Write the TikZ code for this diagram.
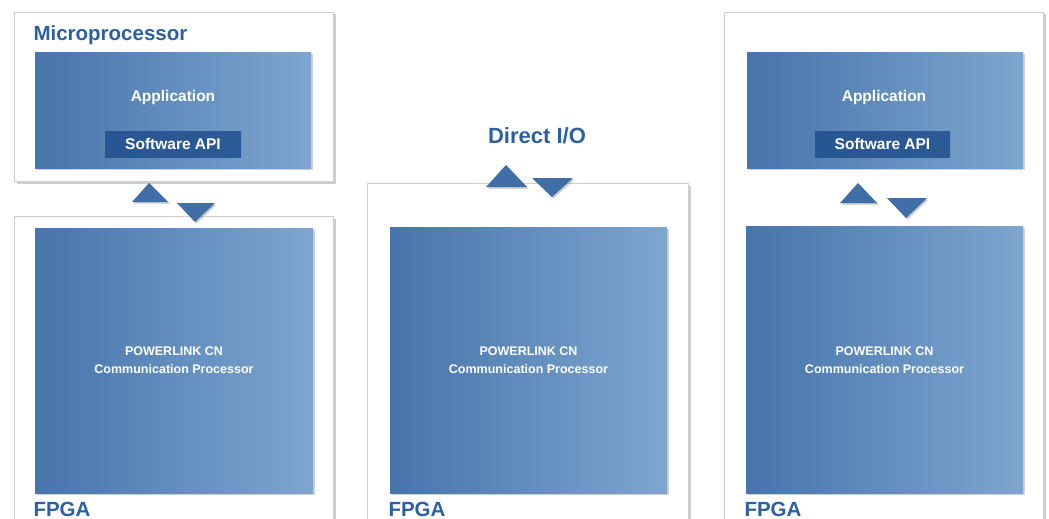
\documentclass[tikz,border=0pt]{standalone}
\usepackage{fontspec}
\setmainfont{Liberation Sans}
\usetikzlibrary{shadows}

\definecolor{boxleft}{RGB}{70,116,172}
\definecolor{boxright}{RGB}{126,166,207}
\definecolor{apiblue}{RGB}{40,86,146}
\definecolor{tagblue}{RGB}{44,96,162}
\definecolor{arrowblue}{RGB}{64,110,166}
\definecolor{framegray}{RGB}{206,206,206}

\tikzset{
  outerbox/.style={draw=framegray, fill=white, line width=0.8pt, inner sep=0pt,
    drop shadow={shadow xshift=2.5pt, shadow yshift=-2.5pt, opacity=0.35, fill=black!55}},
  bluebox/.style={left color=boxleft, right color=boxright, inner sep=0pt,
    drop shadow={shadow xshift=1.5pt, shadow yshift=-1.5pt, opacity=0.3, fill=black!60}},
  apibox/.style={left color=apiblue, right color=apiblue!85!boxleft, inner sep=0pt},
  boxtext/.style={text=white, font=\bfseries\fontsize{15.5}{17}\selectfont},
  coretext/.style={text=white, align=center, font=\bfseries\fontsize{12.5}{18}\selectfont},
  tag/.style={text=tagblue, font=\bfseries\fontsize{20.5}{22}\selectfont},
  tri/.style={fill=arrowblue,
    drop shadow={shadow xshift=1.5pt, shadow yshift=-1.5pt, opacity=0.35, fill=black!60}}
}

\begin{document}
\begin{tikzpicture}[x=1pt, y=-1pt]
\useasboundingbox (0,0) rectangle (1049,519);
\clip (0,0) rectangle (1049,519);
\fill[white] (0,0) rectangle (1049,519);

% Outer frames
\node[outerbox, minimum width=319pt, minimum height=169pt] (mpu) at (173.5,96.5) {};
\node[outerbox, minimum width=319pt, minimum height=314pt] (fpgaA) at (173.5,373) {};
\node[outerbox, minimum width=321pt, minimum height=347pt] (fpgaB) at (527.5,356.5) {};
\node[outerbox, minimum width=319pt, minimum height=518pt] (fpgaC) at (883.5,271) {};

% Left: microprocessor + FPGA
\node[tag, anchor=west] (mpulabel) at (30,35) {Microprocessor};
\node[bluebox, minimum width=276pt, minimum height=115pt] (appA) at (173,110.5) {};
\node[boxtext] (apptextA) at (173,97) {Application};
\node[apibox, minimum width=136pt, minimum height=26pt] (apiA) at (173,144) {};
\node[boxtext] (apitextA) at (173,144) {Software API};

\fill[tri] (132,202) -- (168,202) -- (149,183) -- cycle;
\fill[tri] (177,203) -- (215,203) -- (195,222) -- cycle;

\node[bluebox, minimum width=278pt, minimum height=265pt] (cnA) at (174,360.5) {};
\node[coretext] (cntextA) at (174,360) {POWERLINK CN\\Communication Processor};
\node[tag, anchor=west] (fpgalabelA) at (30,509) {FPGA};

% Middle: direct I/O
\node[tag, font=\bfseries\fontsize{22}{24}\selectfont] (iolabel) at (537,136) {Direct I/O};

\fill[tri] (486,187) -- (527,187) -- (506,165) -- cycle;
\fill[tri] (532,178) -- (573,178) -- (552,197) -- cycle;

\node[bluebox, minimum width=277pt, minimum height=266pt] (cnB) at (528.5,360) {};
\node[coretext] (cntextB) at (528.5,360) {POWERLINK CN\\Communication Processor};
\node[tag, anchor=west] (fpgalabelB) at (385,509) {FPGA};

% Right: application inside FPGA
\node[bluebox, minimum width=276pt, minimum height=115pt] (appC) at (885,110.5) {};
\node[boxtext] (apptextC) at (884,97) {Application};
\node[apibox, minimum width=135pt, minimum height=26pt] (apiC) at (882.5,144) {};
\node[boxtext] (apitextC) at (882.5,144) {Software API};

\fill[tri] (840,203) -- (877,203) -- (858,183) -- cycle;
\fill[tri] (887,198) -- (927,198) -- (906,218) -- cycle;

\node[bluebox, minimum width=277pt, minimum height=267pt] (cnC) at (884.5,359.5) {};
\node[coretext] (cntextC) at (884.5,360) {POWERLINK CN\\Communication Processor};
\node[tag, anchor=west] (fpgalabelC) at (741,509) {FPGA};
\end{tikzpicture}
\end{document}
